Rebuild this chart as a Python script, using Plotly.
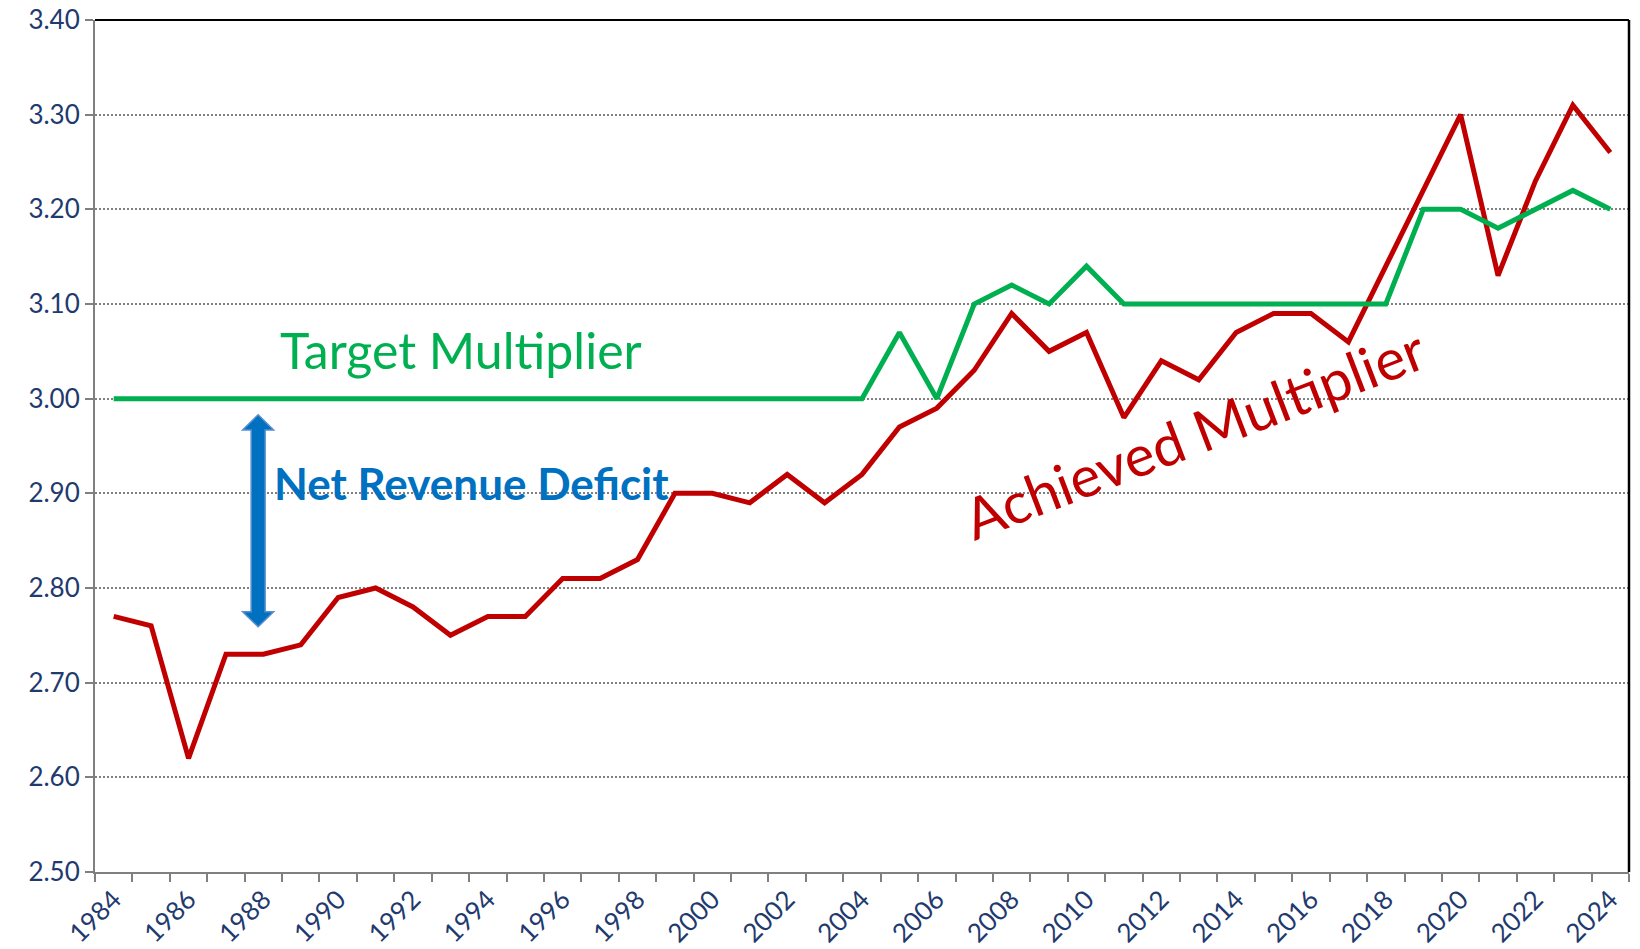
import plotly.graph_objects as go

years = list(range(1984, 2025))
achieved = [2.77, 2.76, 2.62, 2.73, 2.73, 2.74, 2.79, 2.80, 2.78, 2.75,
            2.77, 2.77, 2.81, 2.81, 2.83, 2.90, 2.90, 2.89, 2.92, 2.89,
            2.92, 2.97, 2.99, 3.03, 3.09, 3.05, 3.07, 2.98, 3.04, 3.02,
            3.07, 3.09, 3.09, 3.06, 3.14, 3.22, 3.30, 3.13, 3.23, 3.31, 3.26]
target = [3.00] * 21 + [3.07, 3.00, 3.10, 3.12, 3.10, 3.14, 3.10, 3.10, 3.10,
                        3.10, 3.10, 3.10, 3.10, 3.10, 3.20, 3.20, 3.18, 3.20, 3.22, 3.20]
label_years = [y for y in years if y % 2 == 0]
label_text = [str(y) for y in label_years]
y_ticks = [2.5 + 0.1 * i for i in range(10)]

RED = "#C00000"
GREEN = "#00B050"
BLUE = "#0070C0"
NAVY = "#1F3A6E"
GRAY = "#808080"
FONT = "Lato"

fig = go.Figure()
fig.add_trace(go.Scatter(x=years, y=achieved, mode="lines",
                         line=dict(color=RED, width=5), name="Achieved Multiplier"))
fig.add_trace(go.Scatter(x=years, y=target, mode="lines",
                         line=dict(color=GREEN, width=5), name="Target Multiplier"))

# double-headed arrow (pixel width, data height)
ax = 1987.86
y_top, y_bot = 2.983, 2.759
hh = 0.016
hw, sw = 15.5, 7
path = (f"M 0 {y_top} L {hw} {y_top-hh} L {sw} {y_top-hh} L {sw} {y_bot+hh} "
        f"L {hw} {y_bot+hh} L 0 {y_bot} L {-hw} {y_bot+hh} L {-sw} {y_bot+hh} "
        f"L {-sw} {y_top-hh} L {-hw} {y_top-hh} Z")
fig.add_shape(type="path", path=path, xref="x", yref="y", xsizemode="pixel",
              xanchor=ax, fillcolor=BLUE, line=dict(color="#5A8FCF", width=1.5),
              layer="above")

# top & right border
fig.add_shape(type="line", xref="paper", yref="paper", x0=0, x1=1, y0=1, y1=1,
              line=dict(color="black", width=2))
fig.add_shape(type="line", xref="paper", yref="paper", x0=1, x1=1, y0=0, y1=1,
              line=dict(color="black", width=2.5))

fig.add_annotation(x=1988.39, y=3.051, xref="x", yref="y", text="Target Multiplier",
                   showarrow=False, xanchor="left", yanchor="middle",
                   font=dict(family=FONT, size=50, color=GREEN))
fig.add_annotation(x=1988.23, y=2.911, xref="x", yref="y", text="<b>Net Revenue Deficit</b>",
                   showarrow=False, xanchor="left", yanchor="middle",
                   font=dict(family=FONT, size=44, color=BLUE))
fig.add_annotation(x=2012.87, y=2.964, xref="x", yref="y", text="Achieved Multiplier",
                   showarrow=False, xanchor="center", yanchor="middle", textangle=-21,
                   font=dict(family=FONT, size=57, color=RED))

fig.update_layout(
    width=1640, height=949,
    margin=dict(l=95, r=11, t=20, b=77, autoexpand=False),
    paper_bgcolor="white", plot_bgcolor="white",
    showlegend=False,
    font=dict(family=FONT, color=NAVY),
    xaxis=dict(
        range=[1983.5, 2024.5], showgrid=False, zeroline=False, automargin=False,
        showline=True, linecolor=GRAY, linewidth=2,
        tickmode="array", tickvals=label_years, ticktext=label_text,
        ticks="", tickangle=-45, ticklabelstandoff=0,
        tickfont=dict(family=FONT, size=26, color=NAVY),
        minor=dict(ticks="outside", ticklen=8, tickwidth=2, tickcolor=GRAY,
                   tickmode="linear", tick0=1983.5, dtick=1, showgrid=False),
    ),
    yaxis=dict(
        range=[2.5, 3.4], zeroline=False, automargin=False,
        showline=True, linecolor=GRAY, linewidth=2,
        tickmode="array", tickvals=y_ticks, tickformat=".2f",
        ticks="outside", ticklen=8, tickwidth=2, tickcolor=GRAY,
        showgrid=True, gridcolor=GRAY, gridwidth=2, griddash="2px,2px",
        tickfont=dict(family=FONT, size=26, color=NAVY),
    ),
)

fig.write_html("out.html")
